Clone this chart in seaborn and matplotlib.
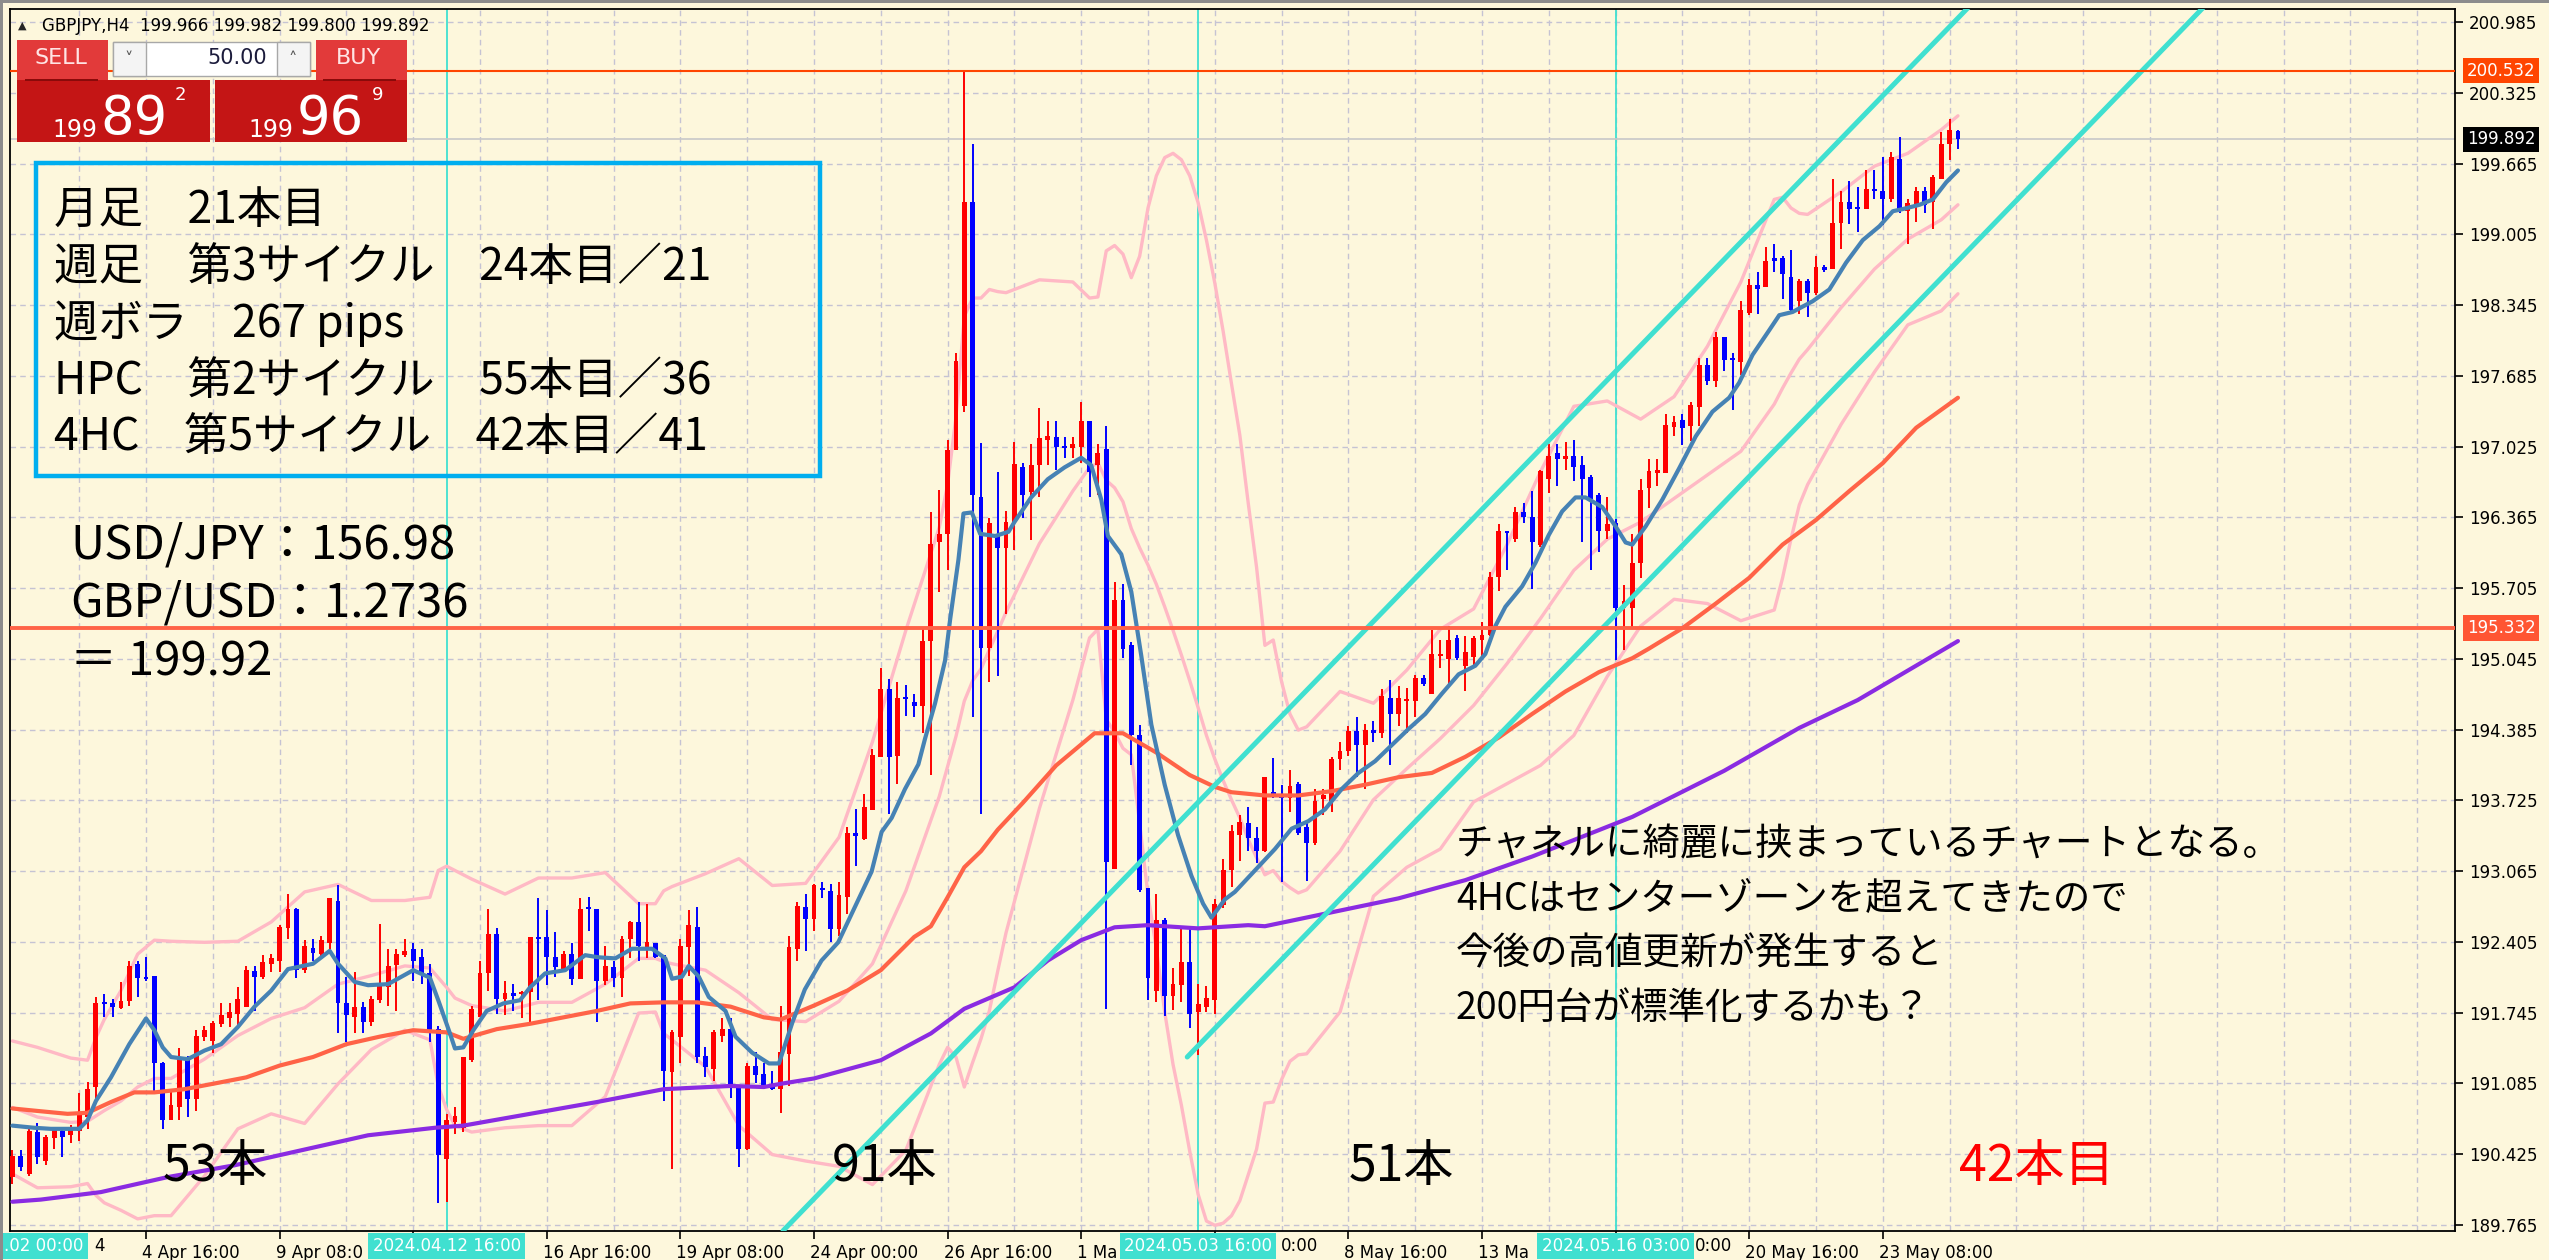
import matplotlib
matplotlib.use("Agg")
import matplotlib.pyplot as plt
import matplotlib.transforms as mtrans
from matplotlib.patches import Rectangle
import numpy as np
import seaborn as sns

sns.set_theme(style="white")
plt.rcParams['font.family'] = ['Noto Sans CJK JP', 'DejaVu Sans']

W, H = 2549, 1260
BG = '#FDF7DC'
GRID = '#C5C3D3'

# ---------------- GBPJPY H4 candles (bar 0 = 2 Apr 00:00) ----------------
opens = [190.21, 190.41, 190.24, 190.63, 190.36, 190.57, 190.64, 190.60, 190.64, 190.77,
         191.05, 191.84, 191.83, 191.79, 191.85, 192.20, 192.08, 192.09, 191.27, 190.74,
         190.86, 191.30, 190.94, 191.52, 191.48, 191.64, 191.69, 191.73, 191.80, 192.13,
         192.08, 192.20, 192.23, 192.53, 192.71, 192.14, 192.35, 192.29, 192.39, 192.79,
         191.83, 191.70, 191.80, 191.66, 191.86, 191.98, 192.19, 192.28, 192.34, 192.26,
         192.11, 191.59, 190.38, 190.72, 190.67, 191.30, 191.70, 192.11, 192.48, 191.87,
         191.93, 191.92, 191.94, 192.45, 192.45, 192.26, 192.15, 192.29, 192.06, 192.72,
         192.71, 192.04, 192.17, 192.07, 192.43, 192.59, 192.36, 192.39, 192.28, 191.19,
         191.52, 192.36, 192.54, 191.34, 191.22, 191.53, 191.59, 191.06, 190.47, 191.25,
         191.17, 191.06, 191.03, 191.36, 192.34, 192.73, 192.62, 192.91, 192.88, 192.52,
         192.82, 193.42, 193.36, 193.63, 194.13, 194.76, 194.14, 194.68, 194.64, 194.60,
         195.21, 196.13, 196.21, 196.99, 197.40, 199.31, 196.55, 195.15, 196.21, 196.08,
         196.32, 196.83, 196.60, 196.85, 197.09, 197.11, 197.02, 197.01, 197.02, 197.26,
         196.85, 197.00, 193.08, 195.59, 195.17, 194.33, 192.91, 191.95, 192.61, 191.90,
         192.00, 192.22, 191.75, 191.80, 191.86, 192.75, 193.07, 193.40, 193.51, 193.37,
         193.25, 193.80, 193.77, 193.75, 193.88, 193.48, 193.33, 193.74, 193.72, 194.11,
         194.18, 194.37, 194.24, 194.38, 194.35, 194.68, 194.53, 194.65, 194.65, 194.87,
         194.72, 195.07, 195.04, 195.24, 194.98, 195.06, 195.22, 195.27, 195.81, 196.24,
         196.16, 196.41, 196.37, 196.11, 196.72, 196.96, 196.91, 196.94, 196.85, 196.74,
         196.57, 196.24, 196.31, 195.52, 195.52, 195.94, 196.64, 196.78, 196.78, 197.21,
         197.27, 197.22, 197.39, 197.79, 197.64, 198.05, 197.84, 197.81, 198.27, 198.53,
         198.51, 198.78, 198.78, 198.61, 198.38, 198.57, 198.46, 198.70, 198.68, 199.11,
         199.31, 199.26, 199.24, 199.43, 199.41, 199.33, 199.71, 199.22, 199.28, 199.41,
         199.31, 199.52, 199.85, 199.966]
highs = [190.46, 190.46, 190.66, 190.71, 190.60, 190.67, 190.66, 190.70, 190.99, 191.10,
         191.89, 191.92, 191.87, 192.03, 192.23, 192.23, 192.26, 192.09, 191.28, 191.02,
         191.41, 191.34, 191.58, 191.62, 191.67, 191.83, 191.83, 191.98, 192.18, 192.18,
         192.28, 192.29, 192.56, 192.85, 192.72, 192.42, 192.43, 192.46, 192.81, 192.93,
         192.08, 192.12, 191.84, 191.90, 192.57, 192.34, 192.34, 192.43, 192.39, 192.34,
         192.20, 191.62, 190.80, 190.86, 191.33, 191.81, 192.23, 192.71, 192.53, 192.04,
         192.01, 191.95, 192.45, 192.81, 192.70, 192.50, 192.32, 192.39, 192.81, 192.82,
         192.71, 192.37, 192.23, 192.46, 192.60, 192.78, 192.76, 192.39, 192.28, 191.58,
         192.43, 192.70, 192.73, 191.42, 191.58, 191.69, 191.69, 191.06, 191.27, 191.38,
         191.27, 191.20, 191.81, 192.46, 192.78, 192.85, 192.94, 192.96, 192.94, 192.96,
         193.48, 193.64, 193.78, 194.20, 194.96, 194.86, 194.83, 194.80, 194.72, 195.33,
         196.41, 196.62, 197.09, 197.90, 200.54, 199.85, 197.06, 196.36, 196.79, 196.42,
         197.07, 196.87, 197.05, 197.38, 197.26, 197.26, 197.11, 197.11, 197.44, 197.26,
         197.05, 197.22, 195.76, 195.74, 195.20, 194.43, 192.91, 192.85, 192.63, 192.16,
         192.55, 192.52, 192.01, 191.99, 192.80, 193.18, 193.49, 193.59, 193.66, 193.48,
         193.94, 194.12, 193.87, 194.01, 193.90, 193.53, 193.83, 193.83, 194.13, 194.27,
         194.42, 194.50, 194.44, 194.46, 194.76, 194.85, 194.79, 194.77, 194.89, 194.89,
         195.31, 195.22, 195.35, 195.27, 195.26, 195.26, 195.39, 195.85, 196.30, 196.24,
         196.46, 196.50, 196.61, 196.81, 197.05, 197.05, 197.07, 197.09, 196.94, 196.76,
         196.59, 196.55, 196.35, 195.73, 196.21, 196.72, 196.91, 196.91, 197.33, 197.31,
         197.33, 197.44, 197.85, 197.85, 198.09, 198.05, 197.90, 198.38, 198.59, 198.65,
         198.89, 198.91, 198.80, 198.86, 198.59, 198.59, 198.80, 198.72, 199.52, 199.41,
         199.50, 199.45, 199.60, 199.60, 199.73, 199.77, 199.91, 199.33, 199.45, 199.45,
         199.56, 199.96, 200.08, 199.982]
lows = [190.15, 190.27, 190.22, 190.33, 190.32, 190.47, 190.40, 190.53, 190.55, 190.66,
        190.92, 191.70, 191.70, 191.78, 191.81, 191.89, 192.04, 190.99, 190.66, 190.74,
        190.74, 190.77, 190.83, 191.48, 191.37, 191.61, 191.61, 191.59, 191.80, 191.76,
        192.06, 192.12, 192.12, 192.43, 192.07, 192.11, 192.23, 192.25, 192.34, 191.55,
        191.47, 191.55, 191.55, 191.62, 191.83, 191.81, 191.76, 192.26, 192.04, 192.01,
        191.47, 189.97, 189.98, 190.61, 190.63, 191.28, 191.70, 191.95, 191.73, 191.72,
        191.76, 191.69, 191.64, 191.86, 192.00, 192.08, 192.14, 192.00, 192.06, 192.51,
        191.66, 192.00, 191.98, 191.89, 192.25, 192.23, 192.25, 192.25, 190.92, 190.29,
        191.27, 192.09, 191.27, 191.14, 191.11, 191.47, 190.95, 190.30, 190.46, 191.09,
        191.03, 191.02, 190.81, 191.06, 192.23, 192.32, 192.51, 192.81, 192.40, 192.46,
        192.66, 193.11, 193.35, 193.63, 194.13, 193.60, 193.88, 194.51, 194.50, 194.35,
        193.96, 195.67, 195.87, 196.99, 197.35, 194.50, 193.60, 194.83, 194.88, 195.46,
        196.06, 196.36, 196.15, 196.55, 196.85, 196.81, 196.92, 196.92, 196.87, 196.55,
        196.57, 191.78, 193.08, 195.05, 194.05, 192.87, 191.86, 191.84, 191.71, 191.77,
        191.84, 191.60, 191.35, 191.75, 191.73, 192.72, 192.92, 193.16, 193.25, 193.14,
        193.24, 193.75, 192.96, 193.62, 193.40, 192.97, 193.31, 193.59, 193.62, 194.01,
        194.14, 193.94, 193.83, 194.27, 194.31, 194.05, 194.42, 194.35, 194.50, 194.79,
        194.72, 194.96, 194.81, 195.03, 194.74, 194.99, 195.05, 195.26, 195.68, 195.87,
        196.13, 196.31, 195.70, 196.09, 196.59, 196.66, 196.81, 196.70, 196.13, 195.87,
        196.04, 196.16, 195.03, 195.13, 195.33, 195.80, 196.45, 196.66, 196.78, 197.12,
        197.04, 197.08, 197.22, 197.60, 197.58, 197.73, 197.37, 197.69, 198.25, 198.26,
        198.51, 198.65, 198.40, 198.28, 198.26, 198.23, 198.44, 198.65, 198.68, 198.87,
        199.10, 199.03, 199.24, 199.33, 199.09, 199.31, 199.20, 198.91, 199.12, 199.20,
        199.05, 199.52, 199.70, 199.800]
closes = [190.41, 190.30, 190.64, 190.40, 190.58, 190.66, 190.58, 190.67, 190.80, 191.03,
          191.83, 191.82, 191.80, 191.85, 192.18, 192.07, 192.06, 191.27, 190.74, 190.88,
          191.31, 190.94, 191.53, 191.58, 191.65, 191.72, 191.75, 191.87, 192.14, 192.08,
          192.22, 192.25, 192.54, 192.71, 192.14, 192.37, 192.30, 192.42, 192.81, 191.83,
          191.72, 191.80, 191.66, 191.87, 192.00, 192.18, 192.29, 192.32, 192.23, 192.11,
          191.58, 190.42, 190.74, 190.78, 191.33, 191.78, 192.11, 192.48, 191.87, 191.93,
          191.90, 191.94, 192.45, 192.43, 192.26, 192.17, 192.29, 192.06, 192.71, 192.71,
          192.04, 192.18, 192.07, 192.43, 192.59, 192.37, 192.40, 192.26, 191.20, 191.56,
          192.37, 192.56, 191.33, 191.24, 191.56, 191.59, 191.05, 190.47, 191.25, 191.16,
          191.05, 191.03, 191.38, 192.36, 192.74, 192.62, 192.93, 192.89, 192.52, 192.84,
          193.42, 193.39, 193.66, 194.15, 194.76, 194.13, 194.68, 194.67, 194.60, 195.21,
          196.12, 196.21, 196.99, 197.82, 199.31, 196.57, 195.15, 196.31, 196.08, 196.32,
          196.86, 196.57, 196.85, 197.10, 197.12, 197.02, 197.01, 197.05, 197.26, 196.79,
          196.96, 193.15, 195.59, 195.14, 194.33, 192.89, 192.07, 192.61, 191.90, 192.01,
          192.22, 191.73, 191.82, 191.88, 192.76, 193.07, 193.44, 193.52, 193.37, 193.25,
          193.94, 193.77, 193.75, 193.86, 193.42, 193.33, 193.72, 193.77, 194.11, 194.18,
          194.37, 194.24, 194.38, 194.35, 194.70, 194.53, 194.68, 194.67, 194.87, 194.81,
          195.09, 195.09, 195.22, 195.05, 195.11, 195.24, 195.27, 195.81, 196.24, 196.22,
          196.41, 196.37, 196.13, 196.80, 196.94, 196.91, 196.94, 196.83, 196.72, 196.54,
          196.24, 196.30, 195.52, 195.58, 195.94, 196.62, 196.80, 196.81, 197.23, 197.25,
          197.20, 197.41, 197.79, 197.64, 198.05, 197.83, 197.83, 198.30, 198.53, 198.49,
          198.76, 198.76, 198.63, 198.30, 198.57, 198.46, 198.70, 198.67, 199.11, 199.31,
          199.24, 199.24, 199.43, 199.41, 199.33, 199.73, 199.22, 199.30, 199.41, 199.28,
          199.54, 199.85, 199.98, 199.892]

# ---------------- indicator lines, sampled (bar index, price) ----------------
fast_idx = [0, 2.6, 4.6, 8, 9, 10, 11.8, 14, 16, 17, 18, 19, 21, 23, 25, 27, 29, 31, 33, 36,
            38, 39, 41, 42.6, 45, 48, 50, 51, 52.4, 53, 54, 55.2, 56.8, 58.8, 60.8, 62, 63.8,
            66.2, 68.6, 70.2, 72.2, 74.2, 76.6, 78.2, 79, 80.2, 81, 82.2, 83.4, 85.4, 86.6,
            88.6, 90.6, 91.8, 93.4, 94.9, 96.9, 98.9, 100.9, 102.9, 104.1, 105.3, 106.9,
            108.5, 109.3, 110.5, 111.7, 112.3, 113.3, 113.9, 114.9, 115.9, 117.7, 119.3, 120,
            122, 124, 126, 128, 129.2, 130.4, 131.2, 132.8, 134, 135.2, 136.4, 138, 139.6,
            141.2, 142.6, 143.6, 145.2, 146.4, 148.8, 151.2, 153.2, 155.2, 157.2, 159.2,
            161.2, 163.2, 165.2, 167.2, 169.2, 171.2, 173.2, 175.2, 176.4, 177.6, 178.8,
            180.8, 182.4, 184, 185.6, 187.2, 188.4, 190.4, 192, 193.2, 194, 195.6, 197.6,
            199.6, 201.6, 203.6, 205.6, 206.8, 208.4, 210.4, 211.6, 213.2, 215.6, 217.6,
            219.6, 221.6, 223.6, 225.2, 226.4, 228.4, 230, 231.6, 233]
fast_val = [190.69, 190.67, 190.66, 190.66, 190.74, 190.92, 191.14, 191.45, 191.69, 191.58,
            191.42, 191.33, 191.31, 191.39, 191.45, 191.61, 191.80, 191.95, 192.15, 192.20,
            192.32, 192.20, 192.03, 192.00, 192.01, 192.14, 192.07, 191.86, 191.55, 191.41,
            191.42, 191.58, 191.76, 191.83, 191.86, 191.98, 192.11, 192.14, 192.28, 192.26,
            192.25, 192.34, 192.34, 192.25, 192.06, 192.08, 192.18, 192.08, 191.89, 191.76,
            191.52, 191.37, 191.27, 191.27, 191.65, 191.96, 192.23, 192.40, 192.73, 193.06,
            193.43, 193.56, 193.83, 194.06, 194.30, 194.63, 195.03, 195.41, 195.97, 196.40,
            196.41, 196.21, 196.19, 196.23, 196.32, 196.55, 196.72, 196.83, 196.92, 196.85,
            196.53, 196.19, 196.02, 195.67, 195.07, 194.43, 193.87, 193.40, 193.02, 192.76,
            192.63, 192.80, 192.87, 193.07, 193.27, 193.46, 193.53, 193.64, 193.83, 193.98,
            194.09, 194.24, 194.39, 194.53, 194.72, 194.90, 194.98, 195.09, 195.35, 195.53,
            195.72, 195.94, 196.20, 196.42, 196.55, 196.55, 196.46, 196.28, 196.13, 196.11,
            196.28, 196.53, 196.82, 197.12, 197.35, 197.48, 197.62, 197.88, 198.11, 198.25,
            198.28, 198.38, 198.49, 198.74, 198.95, 199.08, 199.22, 199.24, 199.28, 199.33,
            199.49, 199.60]

mid_idx = [0, 2.6, 6.6, 9, 11.8, 14.6, 17, 20.6, 24, 28, 32, 36, 40, 44, 48, 52, 54, 58, 62,
           66, 70, 74, 78, 82, 86, 90, 92, 96, 100, 104, 108, 110, 112, 114, 116, 118, 121,
           125, 129.6, 133, 137, 141, 144, 146, 150, 154, 158, 162, 166, 170, 174, 178, 182,
           186, 190, 194, 196, 200, 204, 208, 212, 216, 220, 224, 228, 233]
mid_val = [190.85, 190.83, 190.80, 190.81, 190.91, 191.00, 191.00, 191.03, 191.08, 191.14,
           191.25, 191.33, 191.45, 191.52, 191.58, 191.56, 191.50, 191.59, 191.64, 191.70,
           191.76, 191.83, 191.84, 191.84, 191.80, 191.70, 191.68, 191.81, 191.95, 192.14,
           192.45, 192.55, 192.82, 193.10, 193.25, 193.45, 193.70, 194.05, 194.35, 194.35,
           194.17, 193.96, 193.85, 193.80, 193.77, 193.77, 193.81, 193.87, 193.94, 193.98,
           194.13, 194.31, 194.53, 194.74, 194.92, 195.05, 195.14, 195.33, 195.56, 195.80,
           196.11, 196.34, 196.61, 196.87, 197.20, 197.48]

slow_idx = [0, 3.4, 10.6, 18.6, 26.6, 34.6, 42.6, 50.6, 54, 62, 70, 78, 86, 90, 92, 96, 104,
            110, 114, 120, 124, 128, 132, 136, 142, 148, 150, 158, 166, 174, 182, 194, 205,
            214, 221, 233]
slow_val = [189.98, 190.00, 190.07, 190.21, 190.32, 190.46, 190.60, 190.67, 190.69, 190.80,
            190.91, 191.03, 191.06, 191.05, 191.08, 191.13, 191.30, 191.55, 191.78, 191.98,
            192.23, 192.42, 192.54, 192.56, 192.53, 192.56, 192.55, 192.68, 192.81, 192.98,
            193.20, 193.57, 194.00, 194.40, 194.66, 195.21]

# Bollinger band (pink): middle, upper, lower at sampled bars
bb_idx = [0, 3, 7, 9, 10, 11, 13, 15, 17, 19, 23, 27, 31, 35, 39, 43, 47, 50, 51, 52, 53,
          55, 59, 63, 67, 71, 75, 77, 78, 79, 83, 87, 91, 95, 99, 103, 107, 111, 112, 113,
          114, 115, 116, 117, 118, 119, 123, 127, 129, 130, 131, 132, 133, 134, 135, 136,
          137, 138, 139, 140, 141, 142, 143, 144, 145, 146, 147, 148, 149, 150, 151, 152,
          153, 154, 155, 159, 163, 167, 171, 175, 179, 183, 187, 191, 195, 199, 203, 207,
          211, 212, 213, 214, 215, 219, 223, 227, 231, 233]
bb_mid = [190.86, 190.77, 190.72, 190.73, 190.78, 190.83, 190.92, 191.05, 191.13, 191.13,
          191.31, 191.53, 191.69, 191.79, 192.01, 192.09, 192.18, 192.16, 192.07, 191.98,
          191.88, 191.81, 191.76, 191.84, 191.84, 192.01, 192.25, 192.25, 192.22, 192.20,
          192.14, 191.93, 191.68, 191.66, 191.85, 192.20, 192.88, 193.76, 194.04, 194.32,
          194.65, 194.84, 194.95, 195.13, 195.30, 195.48, 196.12, 196.61, 196.83, 196.87,
          196.71, 196.64, 196.51, 196.26, 196.08, 195.92, 195.74, 195.53, 195.31, 195.08,
          194.84, 194.59, 194.33, 194.11, 193.91, 193.73, 193.56, 193.36, 193.19, 193.03,
          193.07, 192.97, 192.91, 192.86, 192.89, 193.25, 193.73, 194.02, 194.30, 194.61,
          195.00, 195.42, 195.87, 196.16, 196.32, 196.54, 196.76, 196.98, 197.42, 197.57,
          197.71, 197.84, 197.93, 198.32, 198.68, 198.96, 199.14, 199.28]
bb_up = [191.48, 191.42, 191.32, 191.30, 191.51, 191.68, 191.95, 192.29, 192.42, 192.41,
         192.40, 192.41, 192.59, 192.87, 192.94, 192.79, 192.79, 192.82, 193.07, 193.11,
         193.07, 192.99, 192.85, 193.00, 193.00, 193.05, 192.76, 192.76, 192.88, 192.92,
         193.04, 193.18, 192.93, 192.95, 193.38, 194.27, 195.31, 196.27, 196.67, 197.30,
         198.24, 198.41, 198.41, 198.49, 198.47, 198.46, 198.58, 198.56, 198.41, 198.42,
         198.85, 198.90, 198.82, 198.60, 198.80, 199.25, 199.55, 199.72, 199.76, 199.70,
         199.55, 199.30, 198.95, 198.55, 198.10, 197.61, 197.13, 196.50, 195.90, 195.17,
         195.22, 194.83, 194.53, 194.38, 194.41, 194.74, 194.63, 194.94, 195.32, 195.51,
         196.11, 196.79, 197.40, 197.45, 197.28, 197.49, 197.96, 198.56, 199.33, 199.35,
         199.25, 199.20, 199.19, 199.40, 199.64, 199.76, 199.98, 200.11]
bb_lo = [190.24, 190.11, 190.12, 190.15, 190.04, 189.97, 189.90, 189.82, 189.85, 189.85,
         190.22, 190.66, 190.80, 190.71, 191.08, 191.40, 191.58, 191.49, 191.06, 190.84,
         190.69, 190.63, 190.67, 190.69, 190.69, 190.96, 191.74, 191.75, 191.55, 191.49,
         191.24, 190.69, 190.42, 190.36, 190.31, 190.14, 190.46, 191.26, 191.42, 191.33,
         191.05, 191.28, 191.50, 191.76, 192.13, 192.49, 193.65, 194.66, 195.24, 195.32,
         194.48, 194.36, 194.21, 194.15, 193.51, 192.84, 192.34, 191.75, 191.26, 190.88,
         190.45, 190.05, 189.80, 189.76, 189.78, 189.85, 189.99, 190.23, 190.47, 190.90,
         190.91, 191.12, 191.29, 191.35, 191.36, 191.75, 192.83, 193.10, 193.27, 193.71,
         193.88, 194.05, 194.33, 194.88, 195.35, 195.60, 195.56, 195.40, 195.50, 195.80,
         196.16, 196.48, 196.67, 197.23, 197.72, 198.16, 198.29, 198.45]

# channel lines: two anchor points each (bar index, price)
chan_hi_idx = [92.3, 234.6]
chan_hi_val = [189.71, 201.15]
chan_lo_idx = [140.7, 262.5]
chan_lo_val = [191.33, 201.13]

level_hi = 200.532
level_lo = 195.332
last_price = 199.892
marker_bars = [52, 142, 192]

price_ticks = [200.985, 200.325, 199.665, 199.005, 198.345, 197.685, 197.025, 196.365,
               195.705, 195.045, 194.385, 193.725, 193.065, 192.405, 191.745, 191.085,
               190.425, 189.765]
time_idx = [16, 32, 48, 64, 80, 96, 112, 128, 144, 160, 176, 192, 208, 224]
time_lab = ['4 Apr 16:00', '9 Apr 08:0', '', '16 Apr 16:00', '19 Apr 08:00', '24 Apr 00:00',
            '26 Apr 16:00', '1 Ma', '', '8 May 16:00', '13 Ma', '', '20 May 16:00',
            '23 May 08:00']
# label tails left visible to the right of the highlighted date boxes (pixel x, text)
tail_px = [94, 1281, 1695]
tail_lab = ['4', '0:00', '0:00']
hl_idx = [52, 142, 192]
hl_lab = ['2024.04.12 16:00', '2024.05.03 16:00', '2024.05.16 03:00']
first_lab = '.02 00:00'

info_lines = ['月足　21本目', '週足　第3サイクル　24本目／21', '週ボラ　267 pips',
              'HPC　第2サイクル　55本目／36', '4HC　第5サイクル　42本目／41']
rate_lines = ['USD/JPY：156.98', 'GBP/USD：1.2736', '＝ 199.92']
note_lines = ['チャネルに綺麗に挟まっているチャートとなる。', '4HCはセンターゾーンを超えてきたので',
              '今後の高値更新が発生すると', '200円台が標準化するかも？']
count_lab = ['53本', '91本', '51本', '42本目']

# ---------------- figure ----------------
fig = plt.figure(figsize=(W / 100, H / 100), dpi=100, facecolor=BG)
PX0, PX1, PY0, PY1 = 10, 2455, 9, 1231
ax = fig.add_axes([PX0 / W, 1 - PY1 / H, (PX1 - PX0) / W, (PY1 - PY0) / H])
ax.set_facecolor(BG)
ax.set_xlim((PX0 - 12.4) / 8.35, (PX1 - 12.4) / 8.35)
ax.set_ylim(200.985 - (PY1 - 22) / 107.2, 200.985 - (PY0 - 22) / 107.2)


def fx(px):
    return px / W


def fy(py):
    return 1 - py / H


def bar_at(px):
    return (px - 12.4) / 8.35


# grid
for p in price_ticks:
    ax.axhline(p, color=GRID, lw=1.0, ls=(0, (4, 3)), zorder=0)
for gi in range(8, 293, 8):
    ax.axvline(gi, color=GRID, lw=1.0, ls=(0, (4, 3)), zorder=0)

# marker verticals
for b in marker_bars:
    ax.axvline(b, color='#40E0D0', lw=1.3, zorder=1)

ax.axhline(last_price, color='#C8C8C8', lw=1.2, zorder=1)

# bollinger band
for yv in (bb_up, bb_mid, bb_lo):
    sns.lineplot(x=bb_idx, y=yv, ax=ax, color='#FFB9C5', linewidth=2.4, zorder=2)

# candles
o, h, l, c = (np.array(v) for v in (opens, highs, lows, closes))
bars = np.arange(len(c))
col = np.where(c >= o, '#FF0000', '#0000FF')
ax.vlines(bars, l, h, colors=col, lw=1.4, zorder=3)
ax.bar(bars, np.maximum(np.abs(c - o), 0.018), bottom=np.minimum(o, c), width=0.58,
       color=col, linewidth=0, zorder=3)

# moving averages
sns.lineplot(x=slow_idx, y=slow_val, ax=ax, color='#8A2BE2', linewidth=3.0, zorder=4)
sns.lineplot(x=mid_idx, y=mid_val, ax=ax, color='#FF6347', linewidth=3.0, zorder=4)
sns.lineplot(x=fast_idx, y=fast_val, ax=ax, color='#4682B4', linewidth=3.0, zorder=4)

# channel
sns.lineplot(x=chan_hi_idx, y=chan_hi_val, ax=ax, color='#40E0D0', linewidth=3.6, zorder=5)
sns.lineplot(x=chan_lo_idx, y=chan_lo_val, ax=ax, color='#40E0D0', linewidth=3.6, zorder=5)

# horizontal levels
ax.axhline(level_hi, color='#FF4500', lw=1.5, zorder=5)
ax.axhline(level_lo, color='#FF6347', lw=2.8, zorder=5)

# axes styling
for s in ax.spines.values():
    s.set_color('black')
    s.set_linewidth(1.3)
ax.set_xlabel('')
ax.set_ylabel('')
ax.yaxis.tick_right()
ax.set_yticks(price_ticks)
ax.set_yticklabels([f'{p:.3f}' for p in price_ticks])
ax.tick_params(axis='y', right=True, left=False, length=6, width=1.2, pad=4,
               labelsize=12, colors='black')
ax.set_xticks(time_idx)
ax.set_xticklabels(time_lab)
ax.tick_params(axis='x', bottom=True, length=6, width=1.2, pad=3, labelsize=12, colors='black')
shift = mtrans.ScaledTranslation(-4 / 100, 0, fig.dpi_scale_trans)
for lbl in ax.get_yticklabels() + ax.get_xticklabels():
    lbl.set_fontfamily('DejaVu Sans')
for lbl in ax.get_xticklabels():
    lbl.set_ha('left')
    lbl.set_transform(lbl.get_transform() + shift)
ax.grid(False)

# highlighted right-axis prices
x_lab = bar_at(2467)
for p, fc in [(level_hi, '#FF4500'), (last_price, '#000000'), (level_lo, '#FF5533')]:
    ax.text(x_lab, p, f'{p:.3f}', color='white', fontsize=12, family='DejaVu Sans',
            va='center', ha='left', clip_on=False, zorder=10,
            bbox=dict(boxstyle='square,pad=0.22', fc=fc, ec='none'))

# highlighted time labels + visible tails of covered labels
btr = mtrans.blended_transform_factory(ax.transData, ax.transAxes)
ty = -15 / 1222
for bi, txt in zip(hl_idx, hl_lab):
    ax.text(bi, ty, txt, transform=btr, color='white', fontsize=12,
            family='DejaVu Sans', ha='center', va='center', clip_on=False, zorder=10,
            bbox=dict(boxstyle='square,pad=0.25', fc='#40E0D0', ec='none'))
ax.text(bar_at(4), ty, first_lab, transform=btr, color='white', fontsize=12,
        family='DejaVu Sans', ha='left', va='center', clip_on=False, zorder=10,
        bbox=dict(boxstyle='square,pad=0.25', fc='#40E0D0', ec='none'))
for px, txt in zip(tail_px, tail_lab):
    ax.text(bar_at(px), ty, txt, transform=btr, color='black', fontsize=12,
            family='DejaVu Sans', ha='left', va='center', clip_on=False)

# header
fig.text(fx(18), fy(26), '▲', fontsize=8, va='center', ha='left', family='DejaVu Sans')
fig.text(fx(42), fy(26), 'GBPJPY,H4  199.966 199.982 199.800 199.892', fontsize=12,
         va='center', ha='left', family='DejaVu Sans', color='black')


def frect(x, y, w, h, **kw):
    fig.add_artist(Rectangle((fx(x), fy(y + h)), w / W, h / H, transform=fig.transFigure, **kw))


# one-click trading widget
frect(17, 40, 91, 42, fc='#E23A3A', ec='none')
frect(17, 80, 193, 62, fc='#C41515', ec='none')
frect(316, 40, 91, 42, fc='#E23A3A', ec='none')
frect(215, 80, 192, 62, fc='#C41515', ec='none')
frect(113, 42, 197, 34, fc='white', ec='#A8A8A8', lw=1)
frect(113, 42, 33, 34, fc='#F4F4F4', ec='#A8A8A8', lw=1)
frect(277, 42, 33, 34, fc='#F4F4F4', ec='#A8A8A8', lw=1)
frect(25, 79, 73, 2, fc='#8A0A0A', ec='none')
frect(323, 79, 73, 2, fc='#8A0A0A', ec='none')
fig.text(fx(129), fy(60), '˅', fontsize=12, ha='center', va='center', color='#555555', family='DejaVu Sans')
fig.text(fx(293), fy(60), '˄', fontsize=12, ha='center', va='center', color='#555555', family='DejaVu Sans')
fig.text(fx(267), fy(58), '50.00', fontsize=15, ha='right', va='center', color='#1C1C3C', family='DejaVu Sans')
fig.text(fx(61), fy(58), 'SELL', fontsize=16, ha='center', va='center', color='#FFE4E4', family='DejaVu Sans')
fig.text(fx(359), fy(58), 'BUY', fontsize=16, ha='center', va='center', color='#FFE4E4', family='DejaVu Sans')
for x0, big, sup, xs_big, xs_sup in [(52, '89', '2', 100, 175), (248, '96', '9', 297, 372)]:
    fig.text(fx(x0), fy(137), '199', fontsize=17, ha='left', va='baseline', color='white', family='DejaVu Sans')
    fig.text(fx(xs_big), fy(134), big, fontsize=38, ha='left', va='baseline', color='white', family='DejaVu Sans')
    fig.text(fx(xs_sup), fy(100), sup, fontsize=13, ha='left', va='baseline', color='white', family='DejaVu Sans')

# info box
frect(36, 163, 784, 313, fill=False, ec='#00AEEF', lw=3.2)
for k, t in enumerate(info_lines):
    fig.text(fx(54), fy(211 + 56.5 * k), t, fontsize=32, ha='left', va='center', color='black')
for k, t in enumerate(rate_lines):
    fig.text(fx(70), fy(545 + 58.5 * k), t, fontsize=34, ha='left', va='center', color='black')
for k, t in enumerate(note_lines):
    fig.text(fx(1456), fy(845 + 54.5 * k), t, fontsize=27, ha='left', va='center', color='black')

for t, px, colr in zip(count_lab, [163, 832, 1349, 1959], ['black', 'black', 'black', '#FF0000']):
    fig.text(fx(px), fy(1167), t, fontsize=36, ha='left', va='center', color=colr)

# window frame
frect(0, 0, W, 3, fc='#8C8C8C', ec='none')
frect(0, 0, 3, H, fc='#8C8C8C', ec='none')

fig.savefig('out.png', dpi=100, facecolor=BG)
